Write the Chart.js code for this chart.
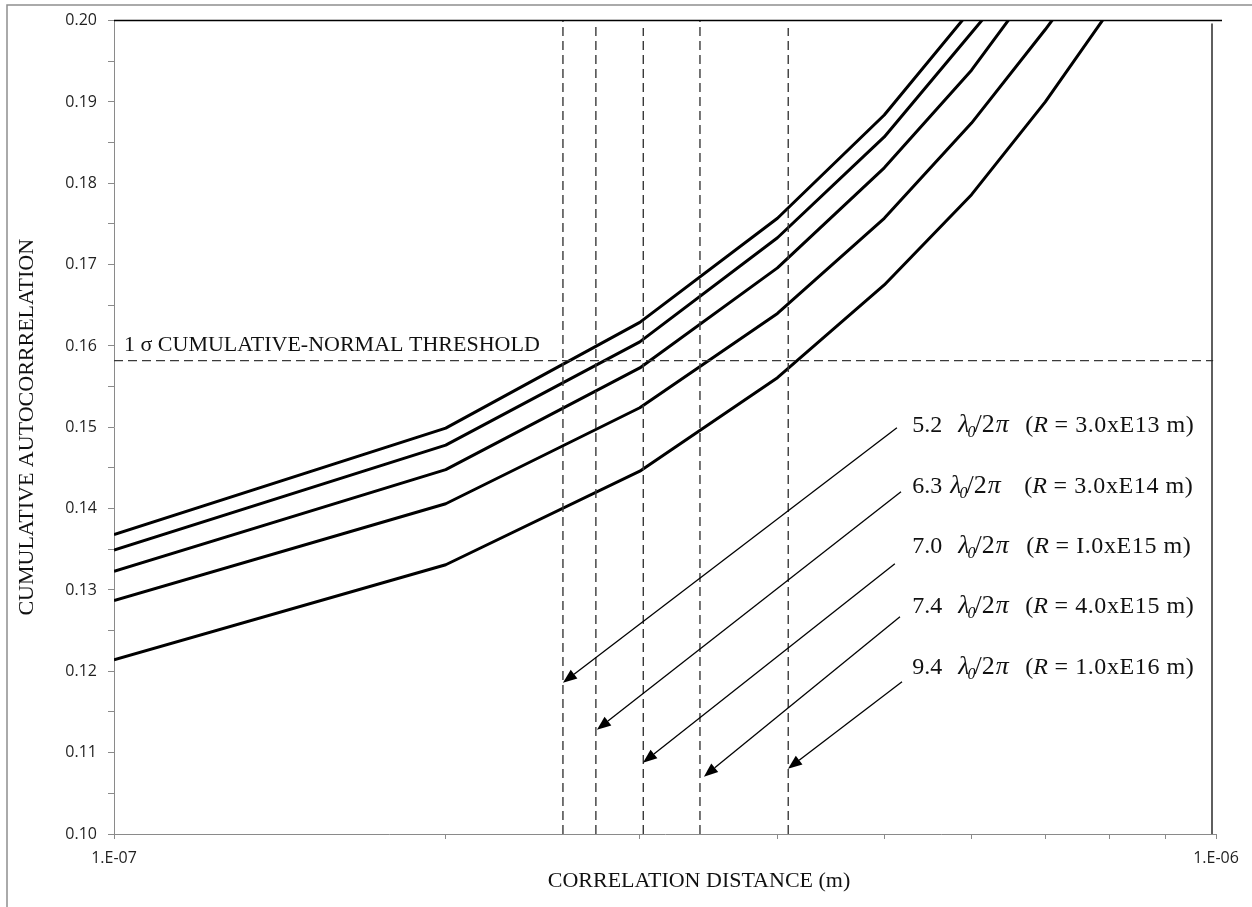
<!DOCTYPE html>
<html><head><meta charset="utf-8">
<script src="https://cdn.jsdelivr.net/npm/chart.js@4.4.1/dist/chart.umd.min.js"></script>
<style>html,body{margin:0;padding:0;background:#fff;}#wrap{position:relative;width:1252px;height:907px;}</style>
</head><body><div id="wrap"><canvas id="c" width="1252" height="907"></canvas></div>
<script>
// ---- data ----
const distances = [1e-7, 2e-7, 3e-7, 4e-7, 5e-7, 6e-7, 7e-7, 8e-7, 9e-7];
const s52 = [0.1368, 0.1499, 0.1629, 0.1757, 0.1884, 0.2014];
const s63 = [0.1349, 0.1478, 0.1605, 0.1733, 0.1857, 0.1985, 0.2094];
const s70 = [0.1323, 0.1448, 0.1573, 0.1696, 0.1819, 0.1939, 0.2062];
const s74 = [0.1287, 0.1406, 0.1524, 0.1640, 0.1757, 0.1874, 0.1989, 0.2095];
const s94 = [0.1214, 0.1331, 0.1446, 0.1561, 0.1675, 0.1786, 0.1900, 0.2012, 0.2124];
const seriesList = [s52, s63, s70, s74, s94];

const threshold = 0.1582;
const thresholdRange = [1e-7, 9.94e-7];
const crossX = [2.555e-7, 2.737e-7, 3.022e-7, 3.402e-7, 4.091e-7];
const crossTop = [0.2000, 0.1997, 0.1991, 0.2000, 0.1991];

const labelNums = ['5.2', '6.3', '7.0', '7.4', '9.4'];
const labelR = ['3.0xE13', '3.0xE14', 'I.0xE15', '4.0xE15', '1.0xE16'];
const labelX = 5.30e-7;
const labelY = [0.14948, 0.14198, 0.13453, 0.12720, 0.11970];
const lamOff = [46, 38, 46, 46, 46];
const parOff = [113, 112, 114, 113, 113];

const arrowFromX = [5.134e-7, 5.178e-7, 5.112e-7, 5.167e-7, 5.189e-7];
const arrowFromY = [0.14994, 0.14207, 0.13322, 0.12671, 0.11872];
const arrowToX = [2.555e-7, 2.743e-7, 3.020e-7, 3.430e-7, 4.089e-7];
const arrowToY = [0.11860, 0.11282, 0.10877, 0.10705, 0.10803];

const yMin = 0.10, yMax = 0.20, yStep = 0.005;
const xMin = 1e-7, xMax = 1e-6;

// ---- datasets ----
const datasets = [];
datasets.push({
  data: [{x: thresholdRange[0], y: threshold}, {x: thresholdRange[1], y: threshold}],
  borderColor: '#3a3a3a', borderWidth: 1.4, borderDash: [9, 5], pointRadius: 0, clip: 0
});
crossX.forEach((cx, i) => {
  datasets.push({
    data: [{x: cx, y: yMin}, {x: cx, y: crossTop[i]}],
    borderColor: '#3a3a3a', borderWidth: 1.4, borderDash: [9, 5], pointRadius: 0, clip: 0
  });
});
seriesList.forEach(s => {
  datasets.push({
    data: s.map((v, i) => ({x: distances[i], y: v})),
    borderColor: '#000', borderWidth: 3, pointRadius: 0, tension: 0, clip: 0,
    borderJoinStyle: 'round'
  });
});

function sci(v) {
  const e = Math.round(Math.log10(v));
  const m = v / Math.pow(10, e);
  if (Math.abs(m - 1) > 1e-6) return '';
  const sign = e < 0 ? '-' : '+';
  const ae = Math.abs(e);
  return '1.E' + sign + (ae < 10 ? '0' + ae : ae);
}

const SERIF = '"Liberation Serif", "Times New Roman", serif';

function arrow(ctx, x1, y1, x2, y2) {
  const ang = Math.atan2(y2 - y1, x2 - x1);
  const L = 14, W = 5.5;
  const bx = x2 - L * Math.cos(ang), by = y2 - L * Math.sin(ang);
  ctx.beginPath(); ctx.moveTo(x1, y1); ctx.lineTo(bx, by); ctx.stroke();
  ctx.beginPath();
  ctx.moveTo(x2, y2);
  ctx.lineTo(bx + W * Math.sin(ang), by - W * Math.cos(ang));
  ctx.lineTo(bx - W * Math.sin(ang), by + W * Math.cos(ang));
  ctx.closePath(); ctx.fill();
}

function drawLabel(ctx, x, y, i) {
  const fs = 24, ff = 26;
  ctx.textAlign = 'left'; ctx.textBaseline = 'alphabetic';
  ctx.font = fs + 'px ' + SERIF;
  ctx.fillText(labelNums[i], x, y);
  let cx = x + lamOff[i];
  ctx.font = 'italic ' + ff + 'px ' + SERIF;
  ctx.fillText('λ', cx, y); cx += ctx.measureText('λ').width - 2;
  ctx.font = 'italic 16px ' + SERIF;
  ctx.fillText('0', cx, y + 5); cx += ctx.measureText('0').width - 1;
  ctx.font = ff + 'px ' + SERIF;
  ctx.fillText('/2', cx, y); cx += ctx.measureText('/2').width + 1;
  ctx.font = 'italic ' + ff + 'px ' + SERIF;
  ctx.fillText('π', cx, y);
  cx = x + parOff[i];
  ctx.font = fs + 'px ' + SERIF;
  ctx.fillText('(', cx, y); cx += ctx.measureText('(').width;
  ctx.font = 'italic ' + fs + 'px ' + SERIF;
  ctx.fillText('R', cx, y); cx += ctx.measureText('R').width;
  ctx.font = fs + 'px ' + SERIF;
  if ('letterSpacing' in ctx) ctx.letterSpacing = '0.6px';
  ctx.fillText(' = ' + labelR[i] + ' m)', cx, y);
  if ('letterSpacing' in ctx) ctx.letterSpacing = '0px';
}

const annot = {
  id: 'annot',
  afterDraw(chart) {
    const {ctx, chartArea: a, scales: {x, y}} = chart;
    ctx.save();
    // outer frame
    ctx.strokeStyle = '#8f8f8f'; ctx.lineWidth = 1.5; ctx.setLineDash([]);
    ctx.beginPath(); ctx.moveTo(7, 907); ctx.lineTo(7, 5); ctx.lineTo(1252, 5); ctx.stroke();
    // top black line
    ctx.strokeStyle = '#000'; ctx.lineWidth = 1.5;
    ctx.beginPath(); ctx.moveTo(a.left, a.top); ctx.lineTo(a.right + 6, a.top); ctx.stroke();
    // right line
    ctx.strokeStyle = '#2a2a2a';
    ctx.beginPath(); ctx.moveTo(a.right - 4, a.top + 3); ctx.lineTo(a.right - 4, a.bottom); ctx.stroke();
    // arrows
    ctx.strokeStyle = '#000'; ctx.fillStyle = '#000'; ctx.lineWidth = 1.3;
    for (let i = 0; i < arrowFromX.length; i++) {
      arrow(ctx, x.getPixelForValue(arrowFromX[i]), y.getPixelForValue(arrowFromY[i]),
        x.getPixelForValue(arrowToX[i]), y.getPixelForValue(arrowToY[i]));
    }
    // labels
    ctx.fillStyle = '#111';
    for (let i = 0; i < labelNums.length; i++) {
      drawLabel(ctx, x.getPixelForValue(labelX), y.getPixelForValue(labelY[i]), i);
    }
    // threshold label
    ctx.font = '22px ' + SERIF; ctx.textAlign = 'left'; ctx.textBaseline = 'alphabetic';
    ctx.fillText('1 σ CUMULATIVE-NORMAL THRESHOLD', a.left + 10, y.getPixelForValue(threshold) - 10);
    // axis titles
    ctx.textAlign = 'center';
    ctx.fillText('CORRELATION DISTANCE (m)', 699, 887);
    ctx.save();
    ctx.translate(33, (a.top + a.bottom) / 2);
    ctx.rotate(-Math.PI / 2);
    ctx.fillText('CUMULATIVE AUTOCORRRELATION', 0, 0);
    ctx.restore();
    ctx.restore();
  }
};

Chart.defaults.font.family = '"Open Sans", "Liberation Sans", sans-serif';
Chart.defaults.color = '#1f1f1f';

new Chart(document.getElementById('c'), {
  type: 'line',
  data: {datasets},
  options: {
    responsive: false,
    devicePixelRatio: 1,
    animation: false,
    layout: {padding: {left: 0, top: 20, right: 36, bottom: 0}},
    plugins: {legend: {display: false}, tooltip: {enabled: false}},
    scales: {
      x: {
        type: 'logarithmic', min: xMin, max: xMax,
        border: {display: true, color: '#8a8a8a', width: 1},
        grid: {drawOnChartArea: false, drawTicks: true, tickLength: 5, tickColor: '#8a8a8a'},
        afterBuildTicks(scale) {
          const t = [];
          for (let k = 1; k <= 10; k++) t.push({value: k * 1e-7});
          scale.ticks = t;
        },
        afterFit(scale) { scale.height = 73; },
        ticks: {
          autoSkip: false, maxRotation: 0, padding: 10,
          font: {size: 16},
          callback: (v) => sci(v)
        }
      },
      y: {
        type: 'linear', min: yMin, max: yMax,
        border: {display: true, color: '#8a8a8a', width: 1},
        grid: {drawOnChartArea: false, drawTicks: true, tickLength: 6, tickColor: '#8a8a8a'},
        afterFit(scale) { scale.width = 114; },
        ticks: {
          stepSize: yStep, padding: 11, autoSkip: false,
          font: {size: 16},
          callback: (v) => (Math.round(v * 1000) % 10 === 0 ? v.toFixed(2) : '')
        }
      }
    }
  },
  plugins: [annot]
});
</script>
</body></html>
